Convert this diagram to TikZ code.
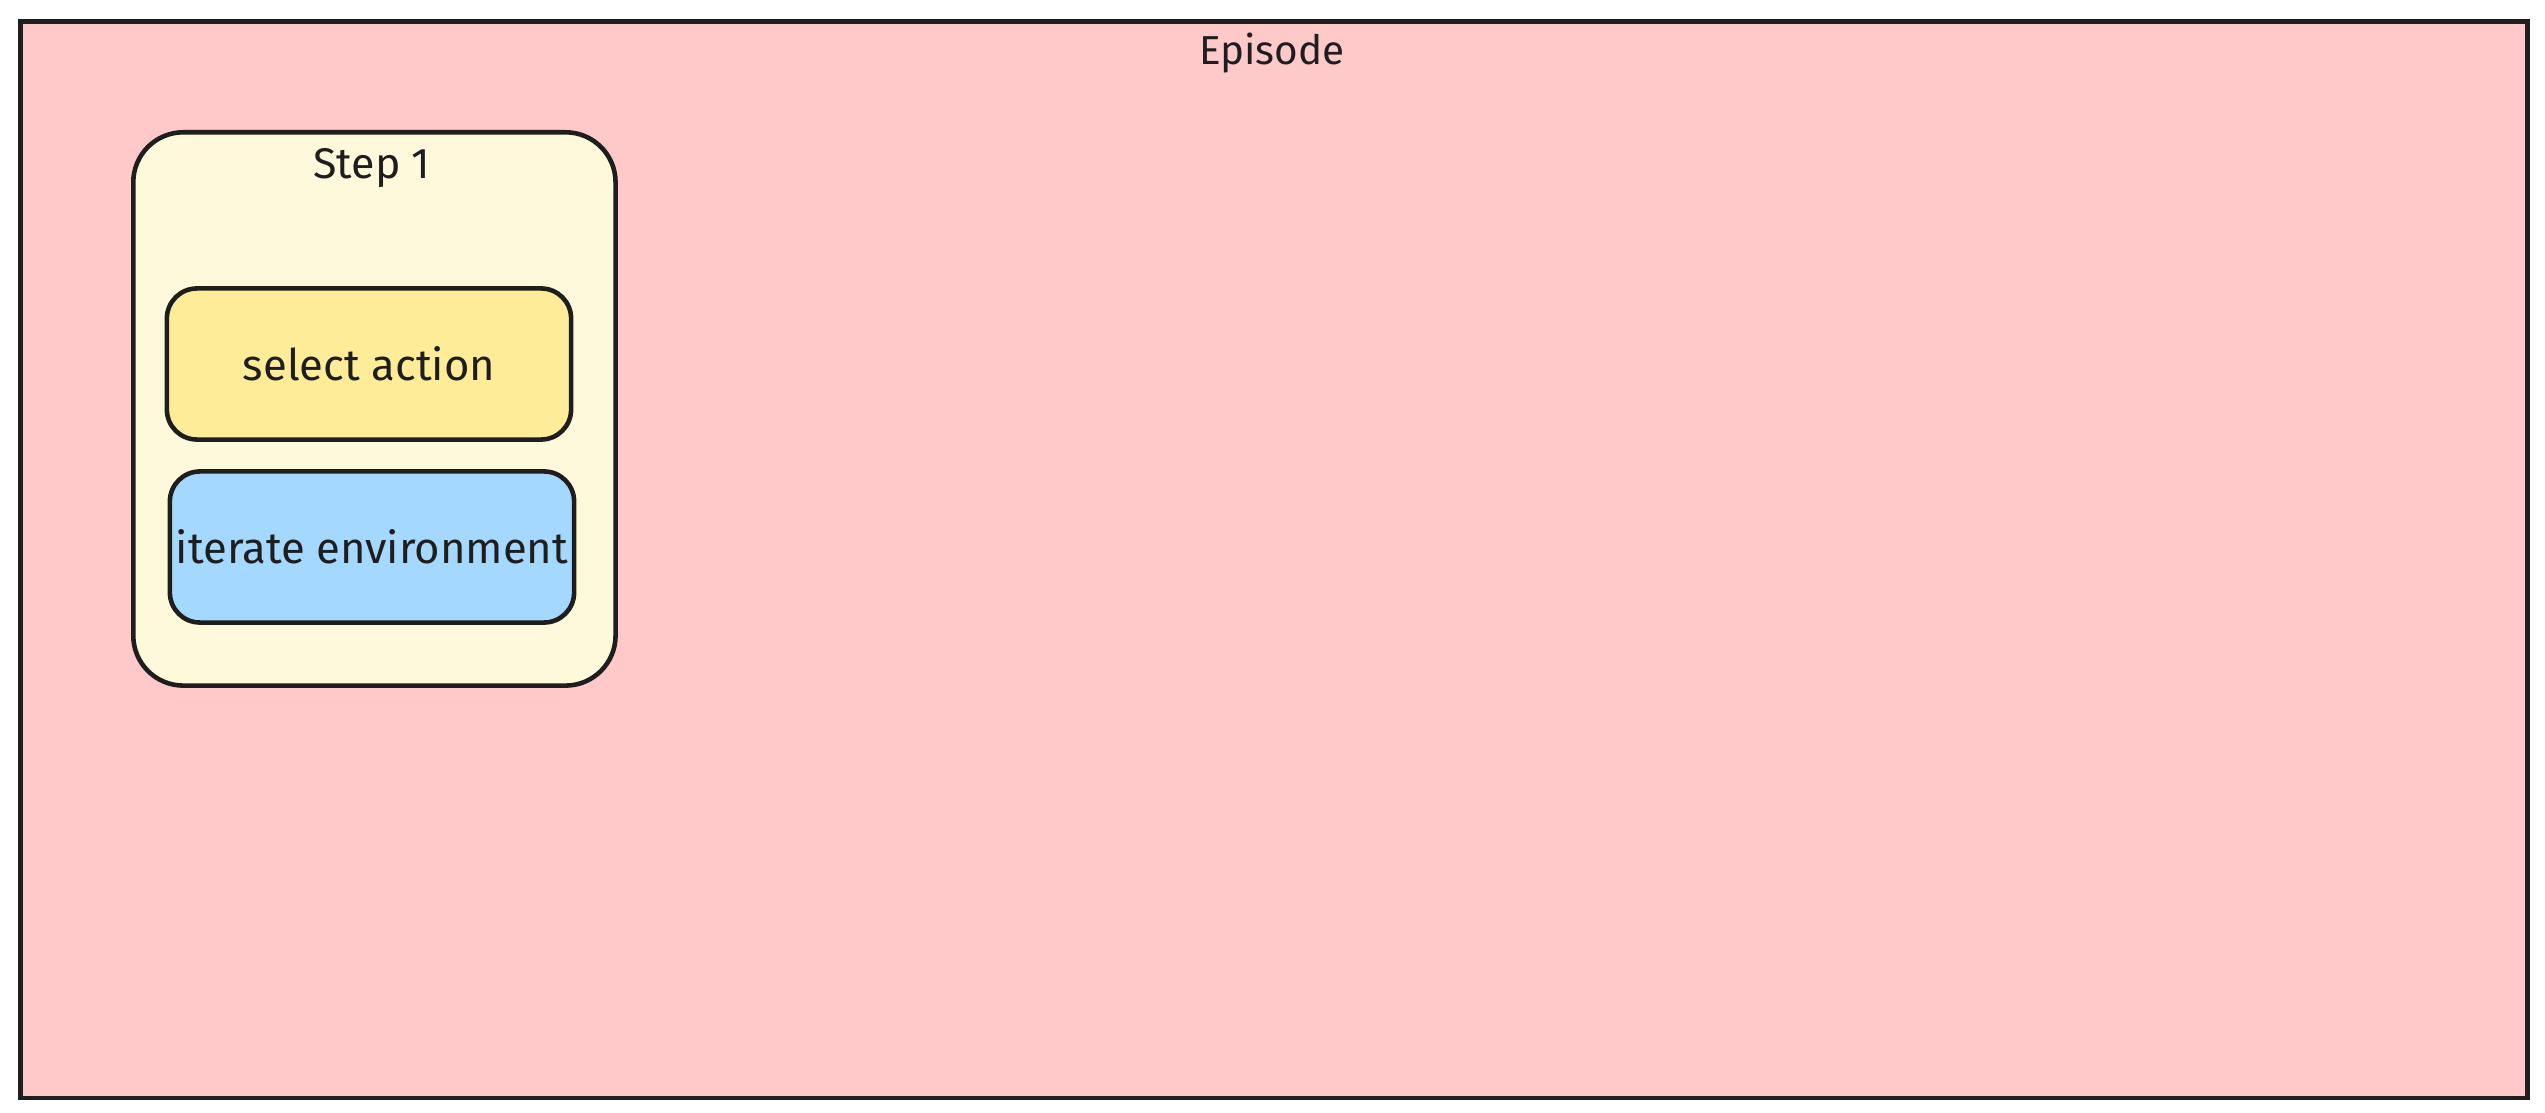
\documentclass[tikz,border=0pt]{standalone}
\usepackage{fontspec}
\setmainfont{Fira Sans}
\definecolor{ink}{HTML}{1E1E1E}
\definecolor{episodefill}{HTML}{FFC9C9}
\definecolor{stepfill}{HTML}{FFF9DB}
\definecolor{actionfill}{HTML}{FFEC99}
\definecolor{envfill}{HTML}{A5D8FF}
\begin{document}
\begin{tikzpicture}[x=0.01cm,y=-0.01cm,
    frame/.style={draw=ink,line width=1.3pt,inner sep=0pt},
    task/.style={frame,rounded corners=0.3cm,minimum width=4.04cm,minimum height=1.51cm,
        font=\fontsize{12.4}{14}\selectfont,text=ink},
    lbl/.style={anchor=base,text=ink}]
    \useasboundingbox (0,0) rectangle (2545,1113);
    % outer episode frame
    \node[frame,fill=episodefill,anchor=north west,minimum width=25.06cm,minimum height=10.76cm] (episode) at (18,19) {};
    \node[lbl,font=\fontsize{11.5}{13}\selectfont] (episodetxt) at (1272,65) {Episode};
    % step container
    \node[frame,fill=stepfill,rounded corners=0.5cm,anchor=north west,minimum width=4.82cm,minimum height=5.53cm] (step) at (131,130) {};
    \node[lbl,font=\fontsize{12.2}{14}\selectfont] (steptxt) at (372,179) {Step 1};
    % the two tasks of the step
    \node[task,fill=actionfill] (action) at (369,364) {select action};
    \node[task,fill=envfill] (env) at (372,547) {iterate environment};
\end{tikzpicture}
\end{document}
